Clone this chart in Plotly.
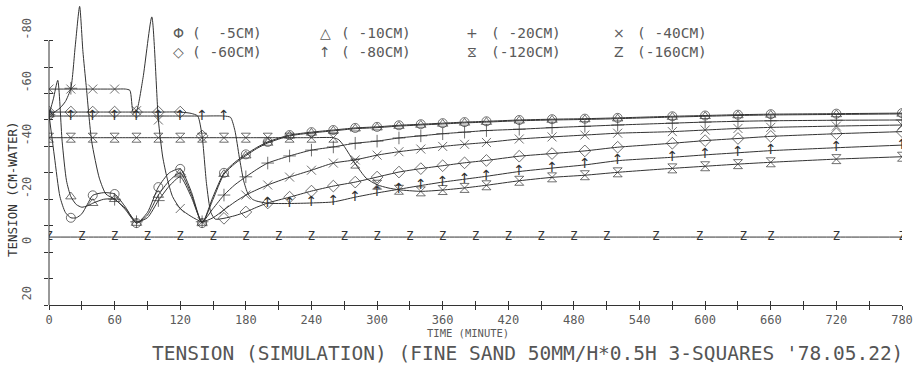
import plotly.graph_objects as go

# ---------------- data (time in minutes, tension in cm-water) ----------------
MARK_T = list(range(0, 401, 20)) + [430, 460, 490, 520, 570, 600, 630, 660, 720, 780]
TAIL_T = [220, 240, 260, 280, 300, 320, 340, 360, 380, 400, 430, 460, 490, 520, 570, 600, 630, 660, 720, 780]

T_5 = [0, 5, 10, 15, 20, 25, 30, 35, 40, 50, 60, 70, 80, 90, 100, 110, 120, 130, 140, 150, 160, 170, 180, 190, 200] + TAIL_T
V_5 = [-52, -36, -21, -15, -13, -13, -14.5, -18, -21.5, -22.5, -22, -17, -11, -15, -24.6, -30, -31.5, -23, -11, -21, -30, -34, -37, -39.6, -41.7,
       -44.3, -45.4, -46.2, -47, -47.4, -48, -48.4, -48.8, -49.2, -49.5, -50, -50.3, -50.5, -50.8, -51.4, -51.7, -52, -52.2, -52.4, -52.6]

T_10 = [0, 4, 8, 12, 16, 20, 25, 30, 35, 40, 50, 60, 70, 80, 90, 100, 110, 120, 130, 140, 150, 160, 170, 180, 190, 200] + TAIL_T
V_10 = [-52, -58, -65, -42, -27, -21, -18, -17, -17.5, -18.5, -20, -20, -16, -11, -14, -21.6, -27, -30, -22, -11, -20, -29.5, -33.5, -36.5, -39.2, -41.3,
        -44, -45.1, -45.9, -46.7, -47.1, -47.7, -48.1, -48.5, -48.9, -49.2, -49.7, -50, -50.2, -50.5, -51.1, -51.4, -51.7, -51.9, -52.1, -52.3]

T_20 = [0, 5, 10, 15, 20, 24, 28, 31, 34, 39, 46, 52, 60, 70, 80, 90, 100, 110, 120, 130, 140, 150, 160, 170, 180, 190, 200] + TAIL_T
V_20 = [-52, -53, -54.5, -57, -62, -78, -93, -76, -63, -42, -28, -22, -20, -16.5, -11.5, -13, -19.5, -25, -28.5, -21, -11.5, -16.5, -21.6, -25.5, -28.5, -31.3, -33.7,
        -36.4, -38.6, -39.8, -41.2, -42, -43.2, -44, -44.8, -45.4, -46, -46.5, -47.1, -47.6, -48.1, -48.8, -49.2, -49.5, -49.7, -49.9, -50]

T_40 = [0, 20, 40, 60, 70, 74, 77, 80, 86, 94, 100, 104, 108, 113, 120, 130, 140, 150, 160, 170, 180, 190, 200] + TAIL_T
V_40 = [-61.7, -61.7, -61.7, -61.7, -61.7, -61.2, -53, -53.5, -66, -89, -50, -36, -28, -21, -16.5, -13.5, -11.5, -13, -16, -19, -21.6, -23.6, -25.4,
        -28.4, -31, -33.7, -34.9, -36.7, -38, -39, -40, -40.8, -41.5, -42.8, -43.6, -44.3, -45, -45.6, -46.2, -46.8, -47.2, -47.7, -48.1]

T_60 = [0, 20, 40, 60, 80, 100, 120, 130, 136, 140, 144, 148, 152, 160, 170, 180, 190, 200] + TAIL_T
V_60 = [-53, -53, -53, -53, -53, -53, -53, -52.5, -51.5, -44, -26, -15, -12.5, -12.8, -13.8, -15.2, -17, -18.6,
        -20.8, -23.1, -25, -26.5, -28.4, -30.3, -31.6, -32.7, -33.8, -34.7, -36.3, -37.3, -38.3, -39.7, -41.2, -42.2, -43, -43.8, -44.8, -45.6]

T_80 = [0, 20, 40, 60, 80, 100, 120, 140, 160, 166, 170, 174, 178, 182, 186, 190, 200] + TAIL_T
V_80 = [-51.5, -51.5, -51.5, -51.5, -51.5, -51.5, -51.5, -51.5, -51.5, -51, -46, -36, -27, -22, -20, -19.3, -18.5,
        -18.4, -18.6, -19, -20.8, -22.4, -23.8, -25.2, -26.5, -27.6, -28.7, -30.5, -31.8, -33, -34.6, -35.9, -36.8, -37.6, -38.4, -39.5, -40.5]

T_120 = [0, 20, 40, 60, 80, 100, 120, 140, 160, 180, 200, 220, 240, 260, 265, 270, 280, 290, 300, 310, 320, 340, 360, 380, 400,
         430, 460, 490, 520, 570, 600, 630, 660, 720, 780]
V_120 = [-43.3, -43.3, -43.3, -43.3, -43.3, -43.3, -43.3, -43.3, -43.3, -43.3, -43.3, -43.3, -43.3, -43.3, -42.5, -40, -33.5, -28, -25.5, -24.3, -23.6, -23, -23.5, -24.3, -25.3,
         -27, -28.3, -29.1, -30.2, -31.7, -32.5, -33.3, -34, -35.2, -36.1]

T_160 = list(range(0, 511, 30)) + [555, 595, 635, 660, 720, 780]
V_160 = [-5.7] * len(T_160)

SERIES = [
    ("-5CM", T_5, V_5, "circle-open", "Φ"),
    ("-10CM", T_10, V_10, "triangle-up-open", "△"),
    ("-20CM", T_20, V_20, "cross-thin-open", "+"),
    ("-40CM", T_40, V_40, "x-thin-open", "×"),
    ("-60CM", T_60, V_60, "diamond-open", "◇"),
    ("-80CM", T_80, V_80, "TEXT:↑", "↑"),
    ("-120CM", T_120, V_120, "hourglass-open", "⧖"),
    ("-160CM", T_160, V_160, "TEXT:Z", "Z"),
]

X_TICKS = list(range(0, 781, 30))
X_LABELS = [str(v) if v % 60 == 0 else "" for v in X_TICKS]
Y_TICKS = list(range(-80, 21, 10))
Y_LABELS = [str(v) if v % 20 == 0 else "" for v in Y_TICKS]

TITLE = "TENSION (SIMULATION) (FINE SAND 50MM/H*0.5H 3-SQUARES '78.05.22)"
X_TITLE = "TIME (MINUTE)"
Y_TITLE = "TENSION (CM-WATER)"

# ---------------- styling / layout ----------------
W, H = 918, 371
ML, MR, MT, MB = 49, 16, 2, 66
LINE = "#333333"
TXT = "#5a5a5a"
MONO = "DejaVu Sans Mono, Liberation Mono, monospace"

def px2paper(px, py):
    return (px - ML) / (W - ML - MR), (H - MB - py) / (H - MT - MB)

fig = go.Figure()
for name, t, v, sym, glyph in SERIES:
    mark_set = set(T_160) if name == "-160CM" else set(MARK_T)
    if sym.startswith("TEXT:"):
        txt = [sym[5:] if tt in mark_set else "" for tt in t]
        fig.add_trace(go.Scatter(
            x=t, y=v, mode="lines+text", text=txt, textposition="middle center",
            textfont=dict(family="DejaVu Sans, sans-serif" if glyph == "↑" else MONO,
                          size=14 if glyph == "↑" else 12, color=LINE),
            line=dict(color=LINE, width=1, shape="spline", smoothing=0.6),
            name=name, showlegend=False, hoverinfo="skip"))
    else:
        sizes = [9 if tt in mark_set else 0 for tt in t]
        fig.add_trace(go.Scatter(
            x=t, y=v, mode="lines+markers",
            marker=dict(symbol=sym, size=sizes, color=LINE, line=dict(width=1, color=LINE)),
            line=dict(color=LINE, width=1, shape="spline", smoothing=0.6),
            name=name, showlegend=False, hoverinfo="skip"))

# dummy trace for the overlay axes that give the crossing tick marks
fig.add_trace(go.Scatter(x=[None], y=[None], xaxis="x2", yaxis="y2", showlegend=False))

YR = [20, 20 - (H - MT - MB) / 2.643]
tickfont = dict(family=MONO, size=12, color=TXT)
fig.update_layout(
    width=W, height=H, margin=dict(l=ML, r=MR, t=MT, b=MB, autoexpand=False),
    paper_bgcolor="white", plot_bgcolor="white", showlegend=False,
    xaxis=dict(range=[0, 780], tickvals=X_TICKS, ticktext=X_LABELS, ticks="outside", ticklen=4,
               tickcolor=LINE, showline=True, linecolor=LINE, linewidth=1, showgrid=False,
               zeroline=False, tickfont=tickfont, ticklabelstandoff=0, automargin=False,
               ticklabeloverflow="allow"),
    xaxis2=dict(range=[0, 780], overlaying="x", anchor="y", side="bottom", tickvals=X_TICKS,
                ticks="inside", ticklen=4, tickcolor=LINE, showticklabels=False,
                showline=False, showgrid=False, zeroline=False, automargin=False),
    yaxis=dict(range=YR, tickvals=Y_TICKS, ticktext=Y_LABELS, ticks="outside", ticklen=4,
               tickcolor=LINE, showline=False, showgrid=False, zeroline=False,
               tickangle=-90, tickfont=tickfont, ticklabelstandoff=8, ticklabelshift=10,
               automargin=False),
    yaxis2=dict(range=YR, overlaying="y", anchor="x", side="left", tickvals=Y_TICKS,
                ticks="inside", ticklen=4, tickcolor=LINE, showticklabels=False,
                showline=False, showgrid=False, zeroline=False, automargin=False),
)
fig.add_shape(type="line", xref="paper", x0=0, x1=0, yref="y", y0=20, y1=-80,
              line=dict(color=LINE, width=1))

ann = []
x, y = px2paper(12, 190)
ann.append(dict(text=Y_TITLE, x=x, y=y, textangle=-90, font=dict(family=MONO, size=12.5, color="#333")))
x, y = px2paper(468, 333)
ann.append(dict(text=X_TITLE, x=x, y=y, font=dict(family=MONO, size=10.5, color=TXT)))
x, y = px2paper(527, 353)
ann.append(dict(text=TITLE, x=x, y=y, font=dict(family=MONO, size=19.5, color="#555")))
COL_SYM = [178, 325, 472, 619]
COL_END = [264, 413, 563, 709]
ROW_Y = [33, 52]
for i, (name, t, v, sym, glyph) in enumerate(SERIES):
    r, c = i // 4, i % 4
    x, y = px2paper(COL_SYM[c], ROW_Y[r])
    ann.append(dict(text=glyph, x=x, y=y, font=dict(family="DejaVu Sans, sans-serif", size=14, color=TXT)))
    x, y = px2paper(COL_END[c], ROW_Y[r])
    lab = "(" + (" " if len(name) == 5 else "") + name + ")"
    if len(name) == 4:
        lab = "(  " + name + ")"
    ann.append(dict(text=lab.replace(" ", "\u00a0"), x=x, y=y, xanchor="right",
                    font=dict(family=MONO, size=14.5, color=TXT)))
for a in ann:
    a.update(xref="paper", yref="paper", showarrow=False)
    a.setdefault("xanchor", "center")
    a.setdefault("yanchor", "middle")
fig.update_layout(annotations=ann)

fig.write_html("out.html", config={"displayModeBar": False},
               post_script="document.body.style.margin='0';document.body.style.overflow='hidden';")
